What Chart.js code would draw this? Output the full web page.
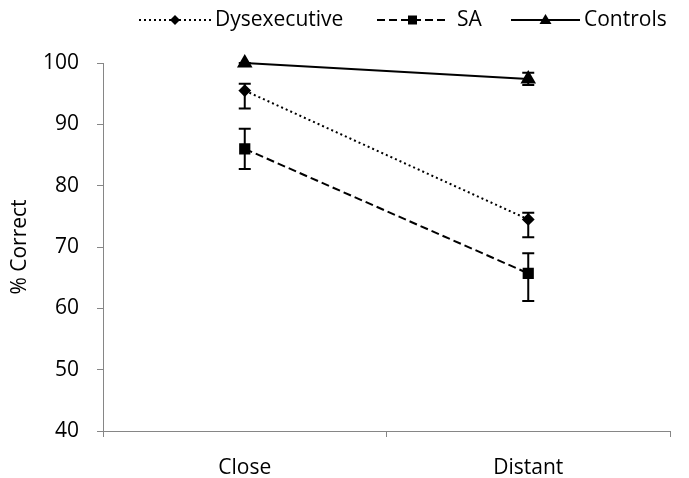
<!DOCTYPE html>
<html>
<head>
<meta charset="utf-8">
<script src="https://cdn.jsdelivr.net/npm/chart.js@4.4.1/dist/chart.umd.min.js"></script>
<style>
  html, body { margin: 0; padding: 0; background: #fff; }
  #wrap { width: 689px; height: 478px; position: relative; }
</style>
</head>
<body>
<div id="wrap"><canvas id="chart"></canvas></div>
<script>
// ================== Data ==================
const categories = ['Close', 'Distant'];
const seriesNames = ['Dysexecutive', 'SA', 'Controls'];

const dysexecutive = [95.5, 74.5];
const sa = [86.0, 65.7];
const controls = [100, 97.4];

// error bar ends (low / high)
const dysLow = [92.6, 71.6];
const dysHigh = [96.6, 75.6];
const saLow = [82.7, 61.2];
const saHigh = [89.3, 69.0];
const ctlLow = [99.5, 96.4];
const ctlHigh = [100, 98.4];

const yTicks = [40, 50, 60, 70, 80, 90, 100];

const FONT = '"Open Sans", sans-serif';
const AXIS = '#868686';

// ================== Error bars ==================
const errorBars = {
  id: 'errorBars',
  beforeDatasetsDraw(chart) {
    const ctx = chart.ctx;
    const y = chart.scales.y;
    chart.data.datasets.forEach((ds, di) => {
      const meta = chart.getDatasetMeta(di);
      meta.data.forEach((pt, i) => {
        const top = y.getPixelForValue(ds.errHigh[i]);
        const bot = y.getPixelForValue(ds.errLow[i]);
        ctx.save();
        ctx.strokeStyle = '#000';
        ctx.lineWidth = 2;
        ctx.beginPath();
        ctx.moveTo(pt.x, top); ctx.lineTo(pt.x, bot);
        ctx.moveTo(pt.x - 6, top); ctx.lineTo(pt.x + 6, top);
        ctx.moveTo(pt.x - 6, bot); ctx.lineTo(pt.x + 6, bot);
        ctx.stroke();
        ctx.restore();
      });
    });
  }
};

// ================== Legend (line + marker samples) ==================
const legendSlots = [
  { x0: 139, x1: 211, tx: 215 },
  { x0: 377, x1: 448, tx: 457 },
  { x0: 511, x1: 580, tx: 584 }
];

function drawMarker(ctx, style, x, y) {
  ctx.beginPath();
  if (style === 'rectRot') {
    ctx.moveTo(x, y - 5); ctx.lineTo(x + 5, y); ctx.lineTo(x, y + 5); ctx.lineTo(x - 5, y);
  } else if (style === 'rect') {
    ctx.rect(x - 4.5, y - 4.5, 9, 9);
  } else {
    ctx.moveTo(x, y - 6); ctx.lineTo(x + 6, y + 4); ctx.lineTo(x - 6, y + 4);
  }
  ctx.closePath();
  ctx.fill();
}

const customLegend = {
  id: 'customLegend',
  afterDraw(chart) {
    const ctx = chart.ctx;
    const ly = 20;
    chart.data.datasets.forEach((ds, i) => {
      const s = legendSlots[i];
      ctx.save();
      ctx.strokeStyle = '#000';
      ctx.fillStyle = '#000';
      ctx.lineWidth = 2;
      ctx.setLineDash(ds.borderDash || []);
      ctx.beginPath();
      ctx.moveTo(s.x0, ly); ctx.lineTo(s.x1, ly);
      ctx.stroke();
      ctx.setLineDash([]);
      drawMarker(ctx, ds.pointStyle, (s.x0 + s.x1) / 2, ly);
      ctx.font = '21px ' + FONT;
      ctx.textBaseline = 'middle';
      ctx.textAlign = 'left';
      ctx.fillText(ds.label, s.tx, ly);
      ctx.restore();
    });
  }
};

// ================== Chart ==================
new Chart(document.getElementById('chart'), {
  type: 'line',
  data: {
    labels: categories,
    datasets: [
      {
        label: seriesNames[0], data: dysexecutive, errLow: dysLow, errHigh: dysHigh,
        borderColor: '#000', backgroundColor: '#000', borderWidth: 2, borderDash: [2, 3],
        pointStyle: 'rectRot', pointRadius: 5, pointHoverRadius: 5
      },
      {
        label: seriesNames[1], data: sa, errLow: saLow, errHigh: saHigh,
        borderColor: '#000', backgroundColor: '#000', borderWidth: 2, borderDash: [8, 4],
        pointStyle: 'rect', pointRadius: 6.5, pointHoverRadius: 6.5
      },
      {
        label: seriesNames[2], data: controls, errLow: ctlLow, errHigh: ctlHigh,
        borderColor: '#000', backgroundColor: '#000', borderWidth: 2,
        pointStyle: 'triangle', pointRadius: 7, pointHoverRadius: 7
      }
    ]
  },
  options: {
    responsive: true,
    maintainAspectRatio: false,
    animation: false,
    clip: false,
    layout: { padding: { top: 63, right: 19, left: 0, bottom: 0 } },
    plugins: {
      legend: { display: false },
      tooltip: { enabled: false }
    },
    scales: {
      x: {
        offset: true,
        grid: { offset: true, drawOnChartArea: false, drawTicks: true, tickLength: 6, color: AXIS, lineWidth: 1 },
        border: { color: AXIS, width: 1 },
        ticks: { color: '#000', font: { family: FONT, size: 21 }, padding: 18 },
        afterFit(scale) { scale.height = 47; }
      },
      y: {
        min: 40, max: 100,
        afterBuildTicks(scale) { scale.ticks = yTicks.map(v => ({ value: v })); },
        grid: { drawOnChartArea: false, drawTicks: true, tickLength: 6, color: AXIS, lineWidth: 1 },
        border: { color: AXIS, width: 1 },
        ticks: { color: '#000', font: { family: FONT, size: 21 }, padding: 18 },
        title: { display: true, text: '% Correct', color: '#000', font: { family: FONT, size: 21 }, padding: { top: 7, bottom: 0 } },
        afterFit(scale) { scale.width = 103; }
      }
    }
  },
  plugins: [errorBars, customLegend]
});
</script>
</body>
</html>
